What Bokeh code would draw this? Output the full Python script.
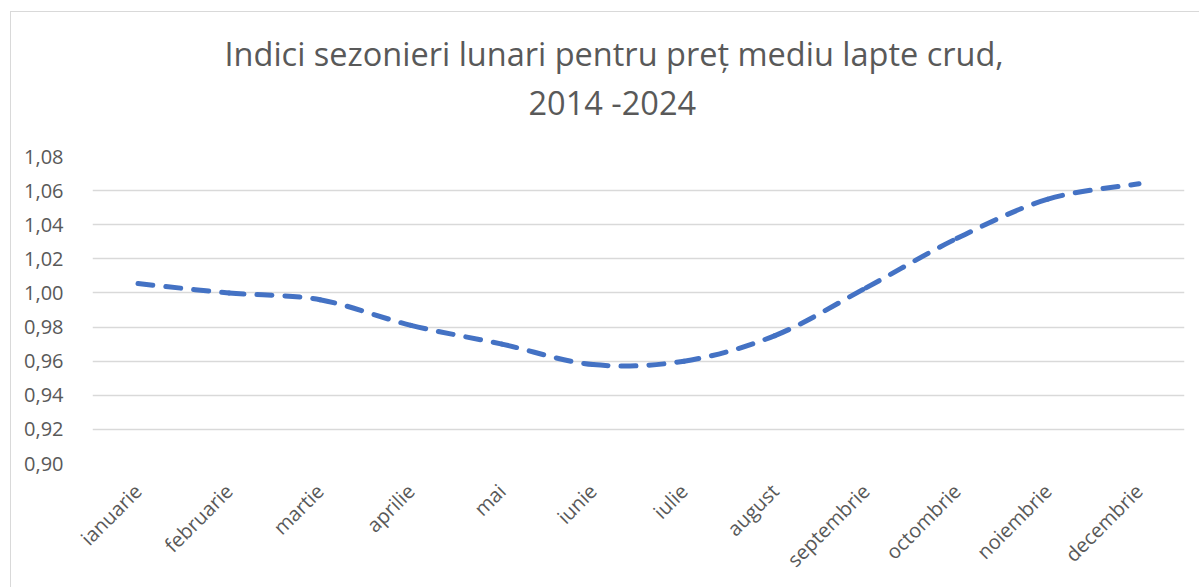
from bokeh.plotting import figure
from bokeh.models import FixedTicker, Title
from bokeh.embed import file_html
from bokeh.resources import INLINE
import math

months = ["ianuarie", "februarie", "martie", "aprilie", "mai", "iunie",
          "iulie", "august", "septembrie", "octombrie", "noiembrie", "decembrie"]
indices = [1.0055, 1.000, 0.996, 0.981, 0.970, 0.958,
           0.960, 0.975, 1.003, 1.032, 1.055, 1.064]
y_ticks = [0.90, 0.92, 0.94, 0.96, 0.98, 1.00, 1.02, 1.04, 1.06, 1.08]
y_labels = ["0,90", "0,92", "0,94", "0,96", "0,98", "1,00", "1,02", "1,04", "1,06", "1,08"]
title_line1 = "Indici sezonieri lunari pentru preț mediu lapte crud,"
title_line2 = "2014 -2024"

TEXT = "#595959"
GRID = "#D9D9D9"
BLUE = "#4472C4"

xs = [i + 0.5 for i in range(len(months))]

p = figure(width=1189, height=576, output_backend="svg", toolbar_location=None,
           x_range=(0, len(months)), y_range=(y_ticks[0], y_ticks[-1]),
           min_border_left=81, min_border_right=16, min_border_top=144,
           min_border_bottom=125)
p.outline_line_color = None
p.background_fill_color = "white"
p.border_fill_color = "white"
p.styles = {"margin-left": "10px", "margin-top": "11px",
            "border-left": "1px solid #D9D9D9", "border-top": "1px solid #D9D9D9"}

t2 = Title(text=title_line2, align="left", text_font="Open Sans", text_font_size="32.5px",
           text_color=TEXT, text_font_style="normal", offset=436, standoff=64)
t1 = Title(text=title_line1, align="left", text_font="Open Sans", text_font_size="32.5px",
           text_color=TEXT, text_font_style="normal", offset=132, standoff=-61)
p.add_layout(t2, "above")
p.add_layout(t1, "above")

# smooth (Excel-like) curve via Bezier segments built from the data points
x0, y0, x1, y1, cx0, cy0, cx1, cy1 = [], [], [], [], [], [], [], []
n = len(xs)
for i in range(n - 1):
    xa, ya = xs[i], indices[i]
    xb, yb = xs[i + 1], indices[i + 1]
    xp, yp = (xs[i - 1], indices[i - 1]) if i > 0 else (xa, ya)
    xn, yn = (xs[i + 2], indices[i + 2]) if i + 2 < n else (xb, yb)
    x0.append(xa); y0.append(ya); x1.append(xb); y1.append(yb)
    cx0.append(xa + (xb - xp) / 6); cy0.append(ya + (yb - yp) / 6)
    cx1.append(xb - (xn - xa) / 6); cy1.append(yb - (yn - ya) / 6)

p.bezier(x0=x0, y0=y0, x1=x1, y1=y1, cx0=cx0, cy0=cy0, cx1=cx1, cy1=cy1,
         line_color=BLUE, line_width=5, line_dash="15 13", line_cap="round")

p.xgrid.grid_line_color = None
p.ygrid.grid_line_color = GRID
p.ygrid.grid_line_width = 1.5
p.yaxis.ticker = FixedTicker(ticks=y_ticks)
p.ygrid.ticker = FixedTicker(ticks=y_ticks)
p.yaxis.major_label_overrides = dict(zip(y_ticks, y_labels))
p.xaxis.ticker = FixedTicker(ticks=xs)
p.xaxis.major_label_overrides = dict(zip(xs, months))
p.xaxis.major_label_orientation = math.pi / 4

for ax in (p.xaxis[0], p.yaxis[0]):
    ax.axis_line_color = None
    ax.major_tick_line_color = None
    ax.minor_tick_line_color = None
    ax.major_label_text_color = TEXT
    ax.major_label_text_font = "Open Sans"
    ax.major_label_text_font_size = "20px"
p.yaxis.major_label_standoff = 23
p.xaxis.major_label_standoff = 18

open("out.html", "w").write(file_html(p, INLINE))
